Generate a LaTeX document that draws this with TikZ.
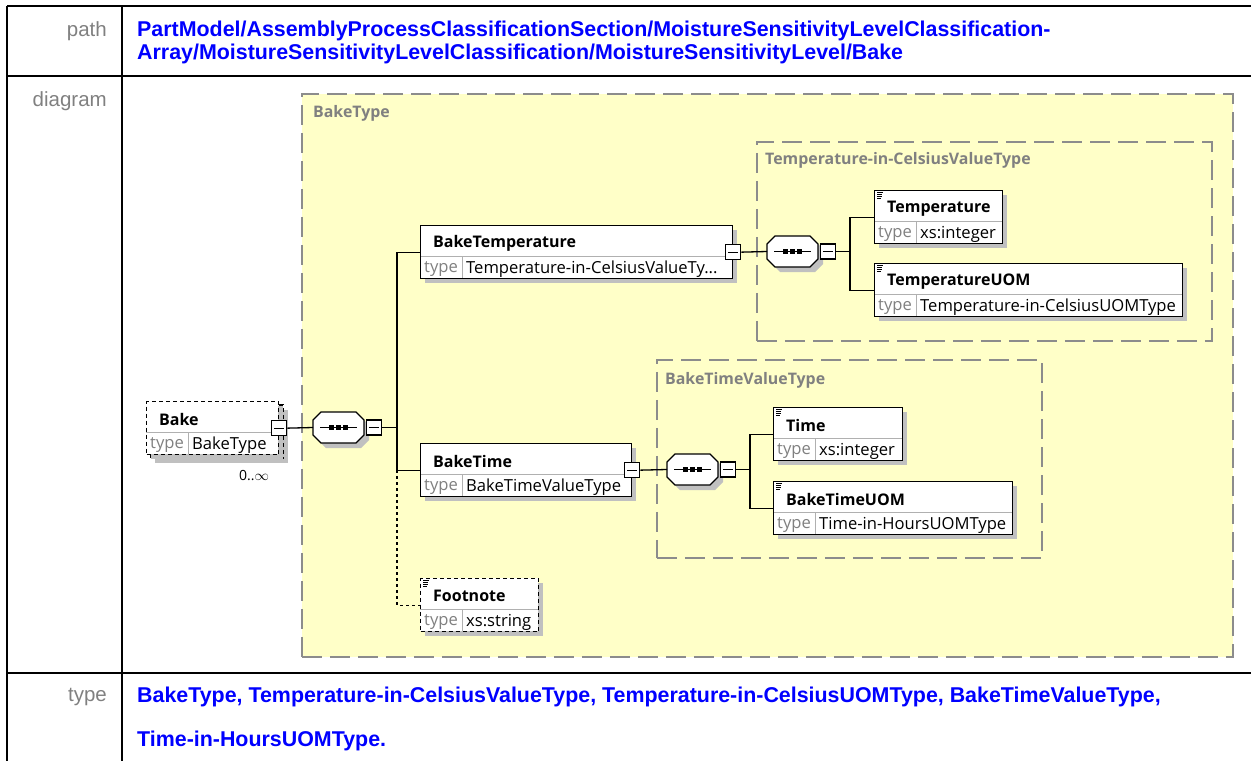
\documentclass[tikz,border=0pt]{standalone}
\usepackage{fontspec}
\setmainfont{Liberation Sans}
\newfontfamily\diagfont{Open Sans}
\definecolor{pathblue}{RGB}{0,0,255}
\definecolor{labelgray}{RGB}{128,128,128}
\definecolor{typefill}{RGB}{255,255,200}
\definecolor{typeborder}{RGB}{140,140,140}
\definecolor{shadowgray}{RGB}{192,192,192}
\definecolor{sepgray}{RGB}{176,176,176}

\tikzset{
  tableline/.style={line width=2.2pt, black},
  rowlabel/.style={font=\fontsize{20.5}{24}\selectfont, text=labelgray, anchor=east, inner sep=0pt},
  pathtext/.style={font=\bfseries\fontsize{21.4}{25}\selectfont, text=pathblue, anchor=west, inner sep=0pt},
  typebox/.style={draw=typeborder, fill=typefill, line width=1.5pt, dash pattern=on 20pt off 8pt, inner sep=0pt, rectangle},
  typelabel/.style={font=\diagfont\bfseries\fontsize{15.9}{18}\selectfont, text=labelgray, anchor=west, inner sep=0pt},
  elem/.style={draw=black, line width=1.3pt, inner sep=0pt, rectangle},
  optelem/.style={elem, dash pattern=on 4pt off 3pt},
  shadow/.style={fill=shadowgray},
  sepline/.style={draw=sepgray, line width=1pt},
  ename/.style={font=\diagfont\bfseries\fontsize{16}{19}\selectfont, anchor=west, inner sep=0pt},
  etype/.style={font=\diagfont\fontsize{16.6}{19}\selectfont, anchor=west, inner sep=0pt},
  ekey/.style={etype, text=labelgray},
  collapse/.style={draw=black, fill=white, line width=1.2pt, minimum size=15pt, inner sep=0pt, rectangle},
  conn/.style={line width=1.3pt},
  optconn/.style={conn, dash pattern=on 3pt off 3pt},
}

% element box: [style]{id}{left}{top}{width}{name}{type}
\newcommand\xelem[7][elem]{%
  \fill[shadow] (#3+5,#4+5) rectangle ++(#5,53);
  \fill[white] (#3,#4) rectangle ++(#5,53);
  \draw[sepline] (#3,#4+31) -- ++(#5,0);
  \draw[sepline] (#3+42,#4+31) -- ++(0,22);
  \node[#1, minimum width=#5pt, minimum height=53pt, anchor=north west] (#2) at (#3,#4) {};
  \node[ename] at (#3+13,#4+18.3) {#6};
  \node[ekey] at (#3+4,#4+44.5) {type};
  \node[etype] at (#3+46,#4+44.5) {#7};
}
% collapse button on the right edge of a node
\newcommand\xcollapse[1]{%
  \node[collapse] (#1c) at (#1.east) {};
  \draw[line width=1.1pt] ([xshift=3pt]#1c.west) -- ([xshift=-3pt]#1c.east);
}
% simple-content marker in the top left corner
\newcommand\xicon[2]{%
  \foreach \k in {0,1,2,3} \draw[line width=0.7pt] (#1+3,#2+2.5+\k*1.8) -- ++(6-\k*0.6,0);
}
% sequence compositor: {id}{left}{center y}
\newcommand\xseq[3]{%
  \fill[shadow] (#2+13,#3-10.5) -- (#2+48,#3-10.5) -- (#2+56,#3-2.5) -- (#2+56,#3+12.5) -- (#2+48,#3+20.5) -- (#2+13,#3+20.5) -- (#2+5,#3+12.5) -- (#2+5,#3-2.5) -- cycle;
  \node[minimum width=51pt, minimum height=31pt, inner sep=0pt, anchor=west] (#1) at (#2,#3) {};
  \draw[fill=white, line width=1.3pt] (#2+8,#3-15.5) -- (#2+43,#3-15.5) -- (#2+51,#3-7.5) -- (#2+51,#3+7.5) -- (#2+43,#3+15.5) -- (#2+8,#3+15.5) -- (#2,#3+7.5) -- (#2,#3-7.5) -- cycle;
  \draw[line width=1.1pt] (#2+7,#3) -- (#2+44,#3);
  \foreach \d in {-7,0,7} \fill (#2+25.5+\d-2.3,#3-2.3) rectangle ++(4.6,4.6);
  \node[collapse] (#1c) at (#2+61,#3) {};
  \draw[line width=1.1pt] ([xshift=3pt]#1c.west) -- ([xshift=-3pt]#1c.east);
}

\begin{document}
\begin{tikzpicture}[x=1pt,y=-1pt]
\useasboundingbox (0,0) rectangle (1251,761);

% table grid
\draw[tableline] (7,6) -- (1251,6);
\draw[tableline] (7,76) -- (1251,76);
\draw[tableline] (7,673) -- (1251,673);
\draw[tableline] (7,6) -- (7,761);
\draw[tableline] (122,6) -- (122,761);

% row labels
\node[rowlabel] (lpath) at (107,31) {path};
\node[rowlabel] (ldiag) at (107,101) {diagram};
\node[rowlabel] (ltype) at (107,697) {type};

% path
\node[pathtext] (path1) at (137,31) {PartModel/AssemblyProcessClassificationSection/MoistureSensitivityLevelClassification-};
\node[pathtext] (path2) at (137,54) {Array/MoistureSensitivityLevelClassification/MoistureSensitivityLevel/Bake};

% type list
\node[pathtext] (types1) at (137,697) {BakeType, Temperature-in-CelsiusValueType, Temperature-in-CelsiusUOMType, BakeTimeValueType,};
\node[pathtext] (types2) at (137,741) {Time-in-HoursUOMType.};

% complex type frames
\node[typebox, minimum width=931pt, minimum height=563pt, anchor=north west] (bakeType) at (301,93) {};
\node[typelabel] at (313,113) {BakeType};
\node[typebox, minimum width=455pt, minimum height=199pt, anchor=north west] (celsType) at (756,141) {};
\node[typelabel] at (765,160) {Temperature-in-CelsiusValueType};
\node[typebox, minimum width=385pt, minimum height=198pt, anchor=north west] (timeType) at (656,359) {};
\node[typelabel] at (665,380) {BakeTimeValueType};

% root element Bake (0..unbounded)
\fill[shadow] (155,458) rectangle (288,463);
\fill[shadow] (283,410) rectangle (288,463);
\draw[optelem, fill=white] (151,405) rectangle (283,458);
\xelem[optelem]{bake}{146}{401}{132}{Bake}{BakeType}
\xcollapse{bake}
\node[font=\diagfont\fontsize{14}{16}\selectfont, inner sep=0pt] (bakeocc) at (254,476) {0..$\infty$};

% elements
\xelem{btemp}{420}{225}{312}{BakeTemperature}{Temperature-in-CelsiusValueTy...}
\xcollapse{btemp}
\xelem{btime}{420}{443}{211}{BakeTime}{BakeTimeValueType}
\xcollapse{btime}
\xelem[optelem]{fnote}{420}{578}{118}{Footnote}{xs:string}
\xicon{420}{578}
\xelem{temp}{874}{190}{128}{Temperature}{xs:integer}
\xicon{874}{190}
\xelem{tuom}{874}{263}{308}{TemperatureUOM}{Temperature-in-CelsiusUOMType}
\xicon{874}{263}
\xelem{time}{773}{407}{129}{Time}{xs:integer}
\xicon{773}{407}
\xelem{btuom}{773}{481}{239}{BakeTimeUOM}{Time-in-HoursUOMType}
\xicon{773}{481}

% sequences
\xseq{seqA}{313}{427.5}
\xseq{seqB}{767}{251.5}
\xseq{seqC}{667}{469.5}

\coordinate (jA) at (397,427.5);
\coordinate (jB) at (850,251.5);
\coordinate (jC) at (750,469.5);

% connectors
\draw[conn] (bakec.east) -- (seqA.west);
\draw[conn] (seqAc.east) -- (jA);
\draw[conn] (jA) |- (btemp.west);
\draw[conn] (jA) |- (btime.west);
\draw[optconn] (btime.west -| jA) |- (fnote.west);

\draw[conn] (btempc.east) -- (seqB.west);
\draw[conn] (seqBc.east) -- (jB);
\draw[conn] (jB) |- (temp.west);
\draw[conn] (jB) |- (tuom.west);

\draw[conn] (btimec.east) -- (seqC.west);
\draw[conn] (seqCc.east) -- (jC);
\draw[conn] (jC) |- (time.west);
\draw[conn] (jC) |- (btuom.west);
\end{tikzpicture}
\end{document}
